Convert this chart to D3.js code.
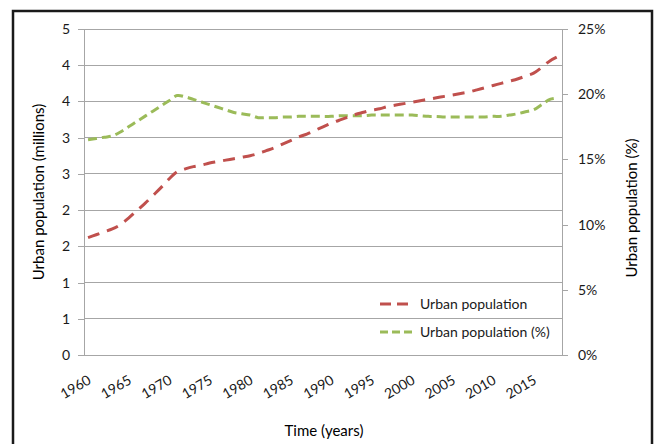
<!DOCTYPE html>
<html>
<head>
<meta charset="utf-8">
<script src="https://cdn.jsdelivr.net/npm/d3@7"></script>
<style>
  html, body { margin: 0; padding: 0; background: #fff; }
  svg { display: block; font-family: Lato, "Open Sans", sans-serif; }
</style>
</head>
<body>
<svg id="chart" width="659" height="444"></svg>
<script>
// Years on the category axis
const years = d3.range(1960, 2019);

// Urban population, millions
const urbanPop = [
  1.62, 1.66, 1.70, 1.74, 1.80, 1.89, 1.99, 2.09, 2.20, 2.31,
  2.43, 2.53, 2.57, 2.60, 2.62, 2.65, 2.67, 2.69, 2.71, 2.73,
  2.75, 2.78, 2.82, 2.86, 2.91, 2.96, 3.01, 3.05, 3.10, 3.15,
  3.20, 3.24, 3.28, 3.32, 3.35, 3.38, 3.40, 3.43, 3.45, 3.47,
  3.49, 3.51, 3.53, 3.55, 3.57, 3.59, 3.61, 3.63, 3.66, 3.69,
  3.72, 3.75, 3.78, 3.81, 3.85, 3.89, 3.97, 4.06, 4.12
];

// Urban population as share of total, %
const urbanPct = [
  16.5, 16.6, 16.7, 16.8, 17.1, 17.5, 17.9, 18.3, 18.7, 19.1,
  19.5, 19.9, 19.8, 19.6, 19.4, 19.2, 19.0, 18.8, 18.6, 18.5,
  18.4, 18.2, 18.2, 18.2, 18.25, 18.25, 18.3, 18.3, 18.3, 18.3,
  18.3, 18.35, 18.35, 18.35, 18.35, 18.4, 18.4, 18.4, 18.4, 18.4,
  18.4, 18.35, 18.3, 18.3, 18.25, 18.25, 18.25, 18.25, 18.25, 18.25,
  18.3, 18.3, 18.4, 18.5, 18.65, 18.8, 19.2, 19.6, 19.7
];

// Axis ticks
const leftTicks = [0, 0.5, 1, 1.5, 2, 2.5, 3, 3.5, 4, 4.5];
const leftTickLabels = ["0", "1", "1", "2", "2", "3", "3", "4", "4", "5"];
const rightTicks = [0, 5, 10, 15, 20, 25];
const rightTickLabels = ["0%", "5%", "10%", "15%", "20%", "25%"];
const xTickYears = [1960, 1965, 1970, 1975, 1980, 1985, 1990, 1995, 2000, 2005, 2010, 2015];

const seriesNames = ["Urban population", "Urban population (%)"];
const colors = ["#C0504D", "#9BBB59"];

const plot = { left: 84, right: 562, top: 29, bottom: 355 };
const svg = d3.select("#chart");

// Outer frame
svg.append("rect")
  .attr("x", 13).attr("y", 11).attr("width", 639).attr("height", 445)
  .attr("fill", "none").attr("stroke", "#1a1a1a").attr("stroke-width", 2.5);

const x = d3.scaleBand().domain(years).range([plot.left, plot.right]);
const xc = yr => x(yr) + x.bandwidth() / 2;
const yL = d3.scaleLinear().domain([0, 4.5]).range([plot.bottom, plot.top]);
const yR = d3.scaleLinear().domain([0, 25]).range([plot.bottom, plot.top]);

const textColor = "#1a1a1a";
const gridColor = "#a6a6a6";

// Horizontal gridlines
svg.append("g").selectAll("line").data(leftTicks).join("line")
  .attr("x1", plot.left).attr("x2", plot.right)
  .attr("y1", d => yL(d)).attr("y2", d => yL(d))
  .attr("stroke", gridColor).attr("stroke-width", 1)
  .attr("shape-rendering", "crispEdges");

// Left axis
const leftAxis = svg.append("g")
  .attr("transform", `translate(${plot.left},0)`)
  .call(d3.axisLeft(yL).tickValues(leftTicks).tickSize(6).tickPadding(8)
    .tickFormat((d, i) => leftTickLabels[i]));
leftAxis.select(".domain").attr("stroke", gridColor).attr("shape-rendering", "crispEdges");
leftAxis.selectAll(".tick line").attr("stroke", gridColor).attr("shape-rendering", "crispEdges");
leftAxis.selectAll(".tick text").attr("fill", textColor).attr("font-size", 14)
  .attr("font-family", "Lato, sans-serif");

// Right axis
const rightAxis = svg.append("g")
  .attr("transform", `translate(${plot.right},0)`)
  .call(d3.axisRight(yR).tickValues(rightTicks).tickSize(6).tickPadding(10)
    .tickFormat((d, i) => rightTickLabels[i]));
rightAxis.select(".domain").attr("stroke", gridColor).attr("shape-rendering", "crispEdges");
rightAxis.selectAll(".tick line").attr("stroke", gridColor).attr("shape-rendering", "crispEdges");
rightAxis.selectAll(".tick text").attr("fill", textColor).attr("font-size", 14)
  .attr("font-family", "Lato, sans-serif");

// Bottom axis line with rotated year labels
const bottomAxis = svg.append("g")
  .attr("transform", `translate(0,${plot.bottom})`)
  .call(d3.axisBottom(x).tickValues(xTickYears).tickSize(0).tickPadding(0));
bottomAxis.select(".domain").attr("stroke", gridColor).attr("shape-rendering", "crispEdges");
bottomAxis.selectAll(".tick text")
  .attr("fill", textColor).attr("font-size", 14).attr("font-family", "Lato, sans-serif")
  .attr("text-anchor", "end")
  .attr("dy", 0)
  .attr("transform", "translate(4,28) rotate(-30)");

// Series lines
const lineL = d3.line().x((d, i) => xc(years[i])).y(d => yL(d)).curve(d3.curveCatmullRom);
const lineR = d3.line().x((d, i) => xc(years[i])).y(d => yR(d)).curve(d3.curveCatmullRom);

svg.append("path").datum(urbanPct)
  .attr("d", lineR).attr("fill", "none")
  .attr("stroke", colors[1]).attr("stroke-width", 3)
  .attr("stroke-dasharray", "9,5");

svg.append("path").datum(urbanPop)
  .attr("d", lineL).attr("fill", "none")
  .attr("stroke", colors[0]).attr("stroke-width", 3)
  .attr("stroke-dasharray", "12,8");

// Legend
const legend = svg.append("g");
const legendRows = [
  { name: seriesNames[0], color: colors[0], dash: "11,6", y: 304 },
  { name: seriesNames[1], color: colors[1], dash: "8,4", y: 332 }
];
legendRows.forEach(r => {
  legend.append("line")
    .attr("x1", 380).attr("x2", 413).attr("y1", r.y).attr("y2", r.y)
    .attr("stroke", r.color).attr("stroke-width", 3).attr("stroke-dasharray", r.dash);
  legend.append("text")
    .attr("x", 420).attr("y", r.y).attr("dy", "0.35em")
    .attr("font-size", 14).attr("fill", textColor).text(r.name);
});

// Axis titles
svg.append("text")
  .attr("transform", `translate(44,${(plot.top + plot.bottom) / 2}) rotate(-90)`)
  .attr("text-anchor", "middle").attr("font-size", 15).attr("fill", "#000")
  .text("Urban population (millions)");

svg.append("text")
  .attr("transform", `translate(637,208) rotate(-90)`)
  .attr("text-anchor", "middle").attr("font-size", 15).attr("fill", "#000")
  .text("Urban population (%)");

svg.append("text")
  .attr("x", 324).attr("y", 436)
  .attr("text-anchor", "middle").attr("font-size", 15).attr("fill", "#000")
  .text("Time (years)");
</script>
</body>
</html>
